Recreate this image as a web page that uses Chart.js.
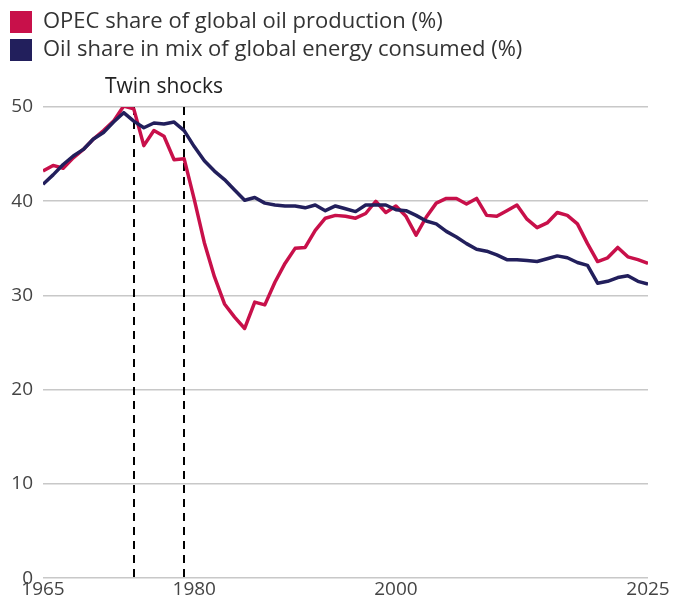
<!DOCTYPE html>
<html>
<head>
<meta charset="utf-8">
<script src="https://cdn.jsdelivr.net/npm/chart.js@4.4.1/dist/chart.umd.min.js"></script>
<style>
  html, body { margin: 0; padding: 0; background: #fff; }
  #wrap { width: 676px; height: 601px; position: relative; }
</style>
</head>
<body>
<div id="wrap"><canvas id="c"></canvas></div>
<script>
const years = [];
for (let y = 1965; y <= 2025; y++) years.push(y);

const opecShare = [
  43.2, 43.8, 43.5, 44.6, 45.5, 46.6, 47.5, 48.5, 50.1, 49.8,
  45.9, 47.5, 46.9, 44.4, 44.5, 40.2, 35.6, 32.0, 29.1, 27.7,
  26.5, 29.3, 29.0, 31.4, 33.4, 35.0, 35.1, 36.9, 38.2, 38.5,
  38.4, 38.2, 38.7, 40.0, 38.8, 39.5, 38.4, 36.4, 38.3, 39.8,
  40.3, 40.3, 39.7, 40.3, 38.5, 38.4, 39.0, 39.6, 38.1, 37.2,
  37.7, 38.8, 38.5, 37.6, 35.5, 33.6, 34.0, 35.1, 34.1, 33.8,
  33.4
];

const oilMixShare = [
  41.8, 42.8, 43.9, 44.8, 45.5, 46.6, 47.3, 48.4, 49.4, 48.5,
  47.8, 48.3, 48.2, 48.4, 47.5, 45.8, 44.3, 43.2, 42.3, 41.2,
  40.1, 40.4, 39.8, 39.6, 39.5, 39.5, 39.3, 39.6, 39.0, 39.5,
  39.2, 38.9, 39.6, 39.6, 39.6, 39.1, 39.0, 38.5, 37.9, 37.6,
  36.8, 36.2, 35.5, 34.9, 34.7, 34.3, 33.8, 33.8, 33.7, 33.6,
  33.9, 34.2, 34.0, 33.5, 33.2, 31.3, 31.5, 31.9, 32.1, 31.5,
  31.2
];

const seriesLabels = [
  "OPEC share of global oil production (%)",
  "Oil share in mix of global energy consumed (%)"
];
const xTickValues = [1965, 1980, 2000, 2025];
const shockYears = [1974, 1979];
const shockLabel = "Twin shocks";

const RED = '#c8104a';
const NAVY = '#221f5c';
const FONT = '"Open Sans", "Noto Sans", sans-serif';

const legendSpacer = {
  id: 'legendSpacer',
  beforeUpdate(chart) {
    const lg = chart.legend;
    if (lg && !lg._patched) {
      const fit = lg.fit;
      lg.fit = function () {
        fit.call(this);
        this.height = 102;
      };
      lg._patched = true;
    }
  }
};

const shockPlugin = {
  id: 'shocks',
  beforeDatasetsDraw(chart) {
    const { ctx, chartArea, scales } = chart;
    ctx.save();
    ctx.strokeStyle = '#000';
    ctx.lineWidth = 2;
    ctx.setLineDash([8, 6]);
    shockYears.forEach(yr => {
      const x = Math.round(scales.x.getPixelForValue(yr));
      ctx.beginPath();
      ctx.moveTo(x, chartArea.top);
      ctx.lineTo(x, chartArea.bottom);
      ctx.stroke();
    });
    ctx.restore();
  },
  afterDraw(chart) {
    const { ctx, chartArea, scales } = chart;
    ctx.save();
    ctx.fillStyle = '#222';
    ctx.font = '21px ' + FONT;
    ctx.textAlign = 'center';
    ctx.textBaseline = 'middle';
    const x0 = scales.x.getPixelForValue(shockYears[0]);
    const x1 = scales.x.getPixelForValue(shockYears[1]);
    ctx.fillText(shockLabel, (x0 + x1) / 2 + 5, chartArea.top - 20);
    ctx.restore();
  }
};

const data = {
  datasets: [
    {
      label: seriesLabels[1],
      data: years.map((y, i) => ({ x: y, y: oilMixShare[i] })),
      borderColor: NAVY,
      backgroundColor: NAVY,
      borderWidth: 3.5,
      pointRadius: 0,
      tension: 0,
      borderJoinStyle: 'round'
    },
    {
      label: seriesLabels[0],
      data: years.map((y, i) => ({ x: y, y: opecShare[i] })),
      borderColor: RED,
      backgroundColor: RED,
      borderWidth: 3.5,
      pointRadius: 0,
      tension: 0,
      borderJoinStyle: 'round'
    }
  ]
};

new Chart(document.getElementById('c'), {
  type: 'line',
  data,
  plugins: [legendSpacer, shockPlugin],
  options: {
    responsive: true,
    maintainAspectRatio: false,
    animation: false,
    layout: { padding: { left: 4, right: 28, top: 5, bottom: 0 } },
    plugins: {
      tooltip: { enabled: false },
      legend: {
        display: true,
        position: 'top',
        align: 'start',
        labels: {
          boxWidth: 22,
          boxHeight: 22,
          padding: 6,
          color: '#333',
          font: { family: FONT, size: 22 },
          sort: (a, b) => b.datasetIndex - a.datasetIndex,
          generateLabels: chart =>
            Chart.defaults.plugins.legend.labels.generateLabels(chart)
              .map(l => Object.assign(l, { lineWidth: 0 }))
        }
      }
    },
    scales: {
      x: {
        type: 'linear',
        min: 1965,
        max: 2025,
        afterBuildTicks: s => { s.ticks = xTickValues.map(v => ({ value: v })); },
        grid: { display: false, drawTicks: false },
        border: { display: false },
        ticks: {
          color: '#444',
          font: { family: FONT, size: 19 },
          padding: 0,
          maxRotation: 0,
          autoSkip: false,
          callback: v => String(v)
        }
      },
      y: {
        min: 0,
        max: 50,
        afterFit: s => { s.width = 39; },
        grid: { color: '#c8c8c8', lineWidth: 1.5, drawTicks: false },
        border: { display: false },
        ticks: {
          stepSize: 10,
          color: '#444',
          padding: 10,
          font: { family: FONT, size: 19 }
        }
      }
    }
  }
});
</script>
</body>
</html>
